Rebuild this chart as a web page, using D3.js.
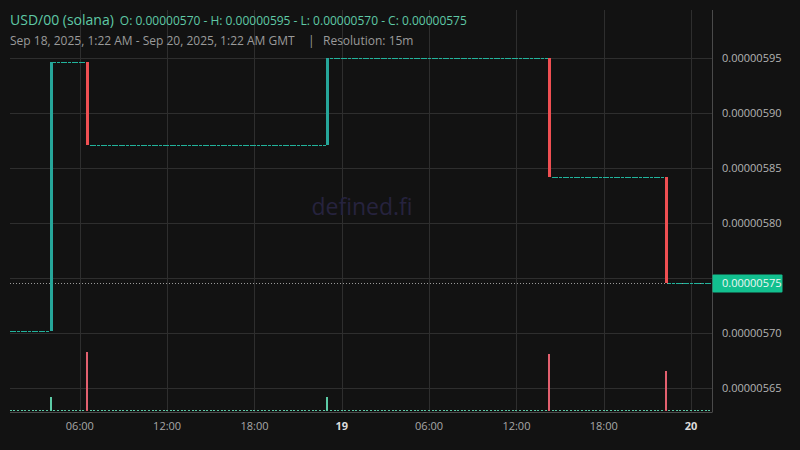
<!DOCTYPE html>
<html>
<head>
<meta charset="utf-8">
<script src="https://cdn.jsdelivr.net/npm/d3@7"></script>
<style>
html,body{margin:0;padding:0;background:#121212;}
svg{display:block;font-family:"Open Sans","Noto Sans",sans-serif;}
</style>
</head>
<body>
<svg id="c" width="800" height="450"></svg>
<script>
// ---- Data ----
const symbolLabel = "USD/00 (solana)";
const ohlcLabel = "O: 0.00000570 - H: 0.00000595 - L: 0.00000570 - C: 0.00000575";
const rangeLabel = "Sep 18, 2025, 1:22 AM - Sep 20, 2025, 1:22 AM GMT";
const resolutionLabel = "Resolution: 15m";
const startPrice = 0.000005702;
// first and last 15m candle opening times (GMT)
const firstCandle = "2025-09-18T01:15:00Z";
const lastCandle = "2025-09-20T01:15:00Z";
// candles where something traded (all other 15m candles are flat with zero volume)
const tradeTimes = ["2025-09-18T04:00:00Z","2025-09-18T06:30:00Z","2025-09-18T23:00:00Z","2025-09-19T14:15:00Z","2025-09-19T22:15:00Z"];
const tradeOpen  = [0.000005702, 0.000005947, 0.0000058715, 0.000005950, 0.000005842];
const tradeHigh  = [0.000005947, 0.000005947, 0.000005950, 0.000005950, 0.000005842];
const tradeLow   = [0.000005702, 0.0000058715, 0.0000058715, 0.000005842, 0.0000057453];
const tradeClose = [0.000005947, 0.0000058715, 0.000005950, 0.000005842, 0.0000057453];
const tradeVolume = [14, 59, 14, 57, 40.5];
const priceTicks = [0.00000565, 0.00000570, 0.00000575, 0.00000580, 0.00000585, 0.00000590, 0.00000595];
const timeTicks = ["2025-09-18T06:00:00Z","2025-09-18T12:00:00Z","2025-09-18T18:00:00Z","2025-09-19T00:00:00Z","2025-09-19T06:00:00Z","2025-09-19T12:00:00Z","2025-09-19T18:00:00Z","2025-09-20T00:00:00Z"];
const timeTickLabels = ["06:00","12:00","18:00","19","06:00","12:00","18:00","20"];
const lastPriceLabel = "0.00000575";
const watermark = "defined.fi";

// ---- Build candle list (flat candles carry the previous close) ----
const tradeMap = new Map(tradeTimes.map((t,i)=>[+new Date(t), i]));
const candles = [];
let prev = startPrice;
for (let t = new Date(firstCandle); t <= new Date(lastCandle); t = d3.utcMinute.offset(t, 15)) {
  const i = tradeMap.get(+t);
  if (i !== undefined) {
    candles.push({t, o: tradeOpen[i], h: tradeHigh[i], l: tradeLow[i], c: tradeClose[i], v: tradeVolume[i]});
    prev = tradeClose[i];
  } else {
    candles.push({t, o: prev, h: prev, l: prev, c: prev, v: 0});
  }
}

// ---- Layout ----
const L = 10, R = 712.5, T = 10, B = 412;
const svg = d3.select("#c");
const x = d3.scaleUtc().domain([new Date("2025-09-18T01:15:00Z"), new Date("2025-09-20T01:30:00Z")]).range([10.7, 712.9]);
const y = d3.scaleLinear().domain([0.00000565, 0.00000595]).range([388.3, 58.3]);
const yv = d3.scaleLinear().domain([0, d3.max(tradeVolume)]).range([411, 352]);

const up = "#26a69a", down = "#ef4f52", flat = "#22b39c";
const volUp = "#5ccaa6", volDown = "#e3606f";
const lastClose = tradeClose[tradeClose.length-1];
const ly = y(lastClose);

// grid
const grid = svg.append("g");
grid.selectAll("line.h").data(priceTicks).join("line")
  .attr("x1", L).attr("x2", R).attr("y1", d=>Math.round(y(d))+0.5).attr("y2", d=>Math.round(y(d))+0.5)
  .attr("stroke", "#2e2e2e");
grid.selectAll("line.v").data(timeTicks).join("line")
  .attr("x1", d=>Math.round(x(new Date(d)))+0.5).attr("x2", d=>Math.round(x(new Date(d)))+0.5)
  .attr("y1", T).attr("y2", B).attr("stroke", "#2e2e2e");

// watermark
svg.append("text").attr("x", 362).attr("y", 215).attr("text-anchor","middle")
  .attr("font-size", 23).attr("fill", "#26233e").text(watermark);

// header
const h1 = svg.append("text").attr("x", 10).attr("y", 25);
h1.append("tspan").attr("font-size", 14).attr("fill", "#5fc9a6").text(symbolLabel);
h1.append("tspan").attr("dx", 6).attr("font-size", 12).attr("fill", "#5fc9a6").text(ohlcLabel);
const h2 = svg.append("text").attr("x", 10).attr("y", 45).attr("font-size", 12).attr("fill", "#9a9a9a");
h2.append("tspan").text(rangeLabel);
h2.append("tspan").attr("x", 308).text("|");
h2.append("tspan").attr("x", 323).text(resolutionLabel);

// plot clip
svg.append("clipPath").attr("id","clip").append("rect").attr("x",L).attr("y",T).attr("width",R-L).attr("height",B-T);
const plot = svg.append("g").attr("clip-path","url(#clip)");

// volume bars
plot.append("g").selectAll("rect").data(candles).join("rect")
  .attr("shape-rendering","crispEdges")
  .attr("x", d=>Math.round(x(d.t))-1).attr("width", 2)
  .attr("y", d=>Math.min(Math.round(yv(d.v)), 410)).attr("height", d=>Math.max(411-Math.round(yv(d.v)), 1))
  .attr("fill", d=>d.c < d.o ? volDown : volUp);

// last price line
plot.append("line").attr("x1", L).attr("x2", R)
  .attr("y1", Math.round(ly)+0.5).attr("y2", Math.round(ly)+0.5)
  .attr("stroke", "#9a9a9a").attr("stroke-dasharray","1,2");

// candles
plot.append("g").selectAll("rect").data(candles).join("rect")
  .attr("shape-rendering","crispEdges")
  .attr("x", d=>Math.round(x(d.t))-1).attr("width", 3)
  .attr("y", d=>d.o===d.c ? Math.round(y(d.c)) : y(Math.max(d.o,d.c)))
  .attr("height", d=>Math.max(Math.abs(y(d.o)-y(d.c)),1))
  .attr("fill", d=>d.c < d.o ? down : (d.o===d.c ? flat : up));

// borders
svg.append("line").attr("x1", R).attr("x2", R).attr("y1", T).attr("y2", B).attr("stroke","#4a4a4a");
svg.append("line").attr("x1", L).attr("x2", R).attr("y1", B+0.5).attr("y2", B+0.5).attr("stroke","#4a4a4a");

// price axis labels (the one hidden behind the last-price box is skipped)
svg.append("g").selectAll("text").data(priceTicks.filter(d=>Math.abs(y(d)-ly) > 12)).join("text")
  .attr("x", 722).attr("y", d=>y(d)).attr("dy","0.35em")
  .attr("font-size", 11).attr("fill", "#b4b4b4").text(d=>d.toFixed(8));

// last price box
svg.append("rect").attr("x", R).attr("y", ly-9).attr("width", 70).attr("height", 18).attr("rx", 1).attr("fill", "#12c08f");
svg.append("text").attr("x", 722).attr("y", ly).attr("dy","0.35em")
  .attr("font-size", 11).attr("fill", "#eef8f4").text(lastPriceLabel);

// time axis labels
svg.append("g").selectAll("text").data(timeTicks).join("text")
  .attr("x", d=>x(new Date(d))).attr("y", 426).attr("dy","0.35em").attr("text-anchor","middle")
  .attr("font-size", 11)
  .attr("font-weight", (d,i)=>timeTickLabels[i].length===2 ? "bold" : "normal")
  .attr("fill", (d,i)=>timeTickLabels[i].length===2 ? "#dcdcdc" : "#a8a8a8")
  .text((d,i)=>timeTickLabels[i]);
</script>
</body>
</html>
